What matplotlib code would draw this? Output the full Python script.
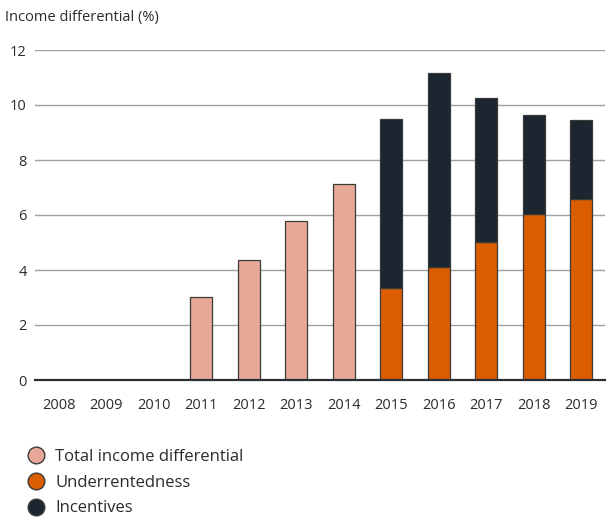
import numpy as np
import matplotlib.pyplot as plt
from matplotlib.lines import Line2D

plt.rcParams['font.family'] = ['Open Sans', 'DejaVu Sans']

years = ['2008', '2009', '2010', '2011', '2012', '2013', '2014',
         '2015', '2016', '2017', '2018', '2019']
total_income = [0, 0, 0, 3.03, 4.37, 5.78, 7.13, 0, 0, 0, 0, 0]
underrentedness = [0, 0, 0, 0, 0, 0, 0, 3.36, 4.12, 5.03, 6.05, 6.58]
incentives = [0, 0, 0, 0, 0, 0, 0, 6.13, 7.06, 5.24, 3.57, 2.86]

c_total = '#E8A898'
c_under = '#DA5E00'
c_incent = '#1C2630'
text_col = '#2b2b2b'

fig = plt.figure(figsize=(6.09, 5.18), dpi=100)
ax = fig.add_axes([35 / 609, 138 / 518, 570 / 609, 330 / 518])

x = np.arange(len(years))
w = 0.47
edge = dict(edgecolor='#3a3a3a', linewidth=0.9)

ax.bar(x, total_income, w, color=c_total, zorder=3, **edge)
ax.bar(x, underrentedness, w, color=c_under, zorder=3, **edge)
ax.bar(x, incentives, w, bottom=underrentedness, color=c_incent, zorder=3, **edge)

ax.set_xlim(-0.5, 11.5)
ax.set_ylim(0, 12)
ax.set_yticks(range(0, 13, 2))
ax.set_xticks(x)
ax.set_xticklabels(years)
ax.yaxis.grid(True, color='#a0a0a0', linewidth=1.0, zorder=0)
ax.set_axisbelow(True)
for s in ['top', 'right', 'left']:
    ax.spines[s].set_visible(False)
ax.spines['bottom'].set_color('#2a2f36')
ax.spines['bottom'].set_linewidth(1.6)
ax.spines['bottom'].set_zorder(4)
ax.tick_params(axis='both', length=0, labelsize=10.5, colors=text_col)
ax.tick_params(axis='x', pad=13)
ax.tick_params(axis='y', pad=6)

fig.text(5 / 609, 1 - 17 / 518, 'Income differential (%)', fontsize=10.5,
         color=text_col, va='center', ha='left')

handles = [
    Line2D([], [], marker='o', linestyle='', markersize=12,
           markerfacecolor=c, markeredgecolor='#3a3a3a', markeredgewidth=1)
    for c in (c_total, c_under, c_incent)
]
labels = ['Total income differential', 'Underrentedness', 'Incentives']
fig.legend(handles, labels, loc='upper left', bbox_to_anchor=(26 / 609, 1 - 449 / 518),
           frameon=False, fontsize=12, labelcolor=text_col, handletextpad=0.55,
           labelspacing=0.58, handlelength=1.2, borderaxespad=0, borderpad=0)

fig.savefig('out.png', dpi=100)
